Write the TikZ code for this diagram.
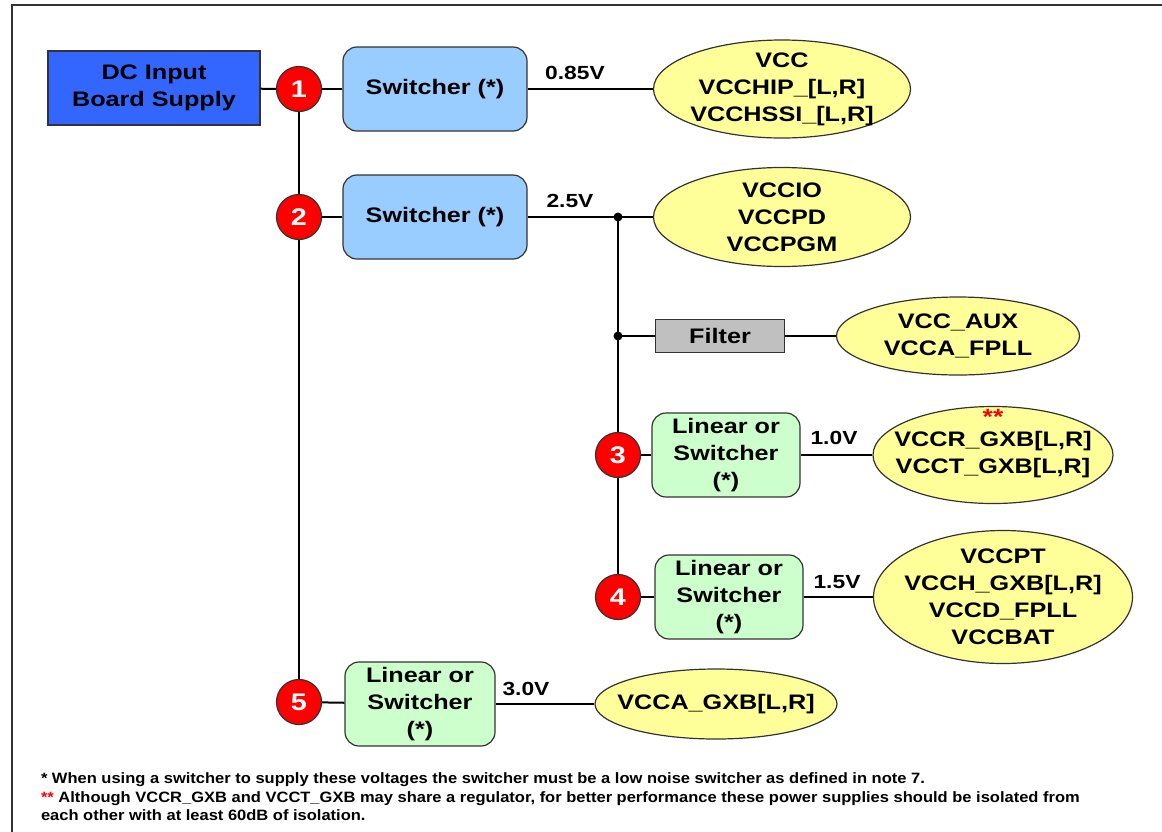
\documentclass[tikz,border=0pt]{standalone}
\usepackage{fontspec}
\setmainfont[FakeStretch=1.2]{Liberation Sans}
\newfontfamily\notefont[FakeStretch=1.1]{Liberation Sans}
\usepackage{xcolor}
\usetikzlibrary{shapes.geometric, positioning}

\definecolor{dcblue}{HTML}{3366FF}
\definecolor{swblue}{HTML}{99CCFF}
\definecolor{lingreen}{HTML}{CCFFCC}
\definecolor{railyellow}{HTML}{FFFF99}
\definecolor{filtgray}{HTML}{C0C0C0}
\definecolor{edge}{HTML}{333333}

\begin{document}
\begin{tikzpicture}[x=1pt, y=-1pt, line width=2pt,
            font=\fontsize{21}{27}\selectfont\bfseries,
            regbox/.style={draw=edge, line width=1.2pt, rectangle, rounded corners=14pt, minimum width=184pt, minimum height=84pt, align=center, inner sep=0pt},
            linbox/.style={draw=edge, line width=1.2pt, rectangle, rounded corners=14pt, fill=lingreen, minimum width=148pt, minimum height=84pt, align=center, inner sep=0pt},
            rail/.style={draw=edge, line width=1.2pt, ellipse, fill=railyellow, align=center, inner xsep=-30pt, inner ysep=-14pt},
            num/.style={draw=edge, line width=1.2pt, circle, fill=red, text=white, minimum size=45pt, inner sep=0pt, font=\fontsize{24}{24}\selectfont\bfseries},
            volt/.style={font=\fontsize{19}{20}\selectfont\bfseries},
            dot/.style={circle, fill=black, minimum size=9pt, inner sep=0pt}]

            \useasboundingbox (0,0) rectangle (1162,831);
            \draw[line width=2.5pt, draw=edge] (12,5) rectangle (1180,850);

            % input and regulators
            \node[draw=edge, line width=1.2pt, fill=dcblue, minimum width=212pt, minimum height=74pt, align=center, inner sep=0pt] (dc) at (154,88) {DC Input\\Board Supply};
            \node[num] (c1) at (299,89) {1};
            \node[num] (c2) at (299,217) {2};
            \node[num] (c3) at (618,455) {3};
            \node[num] (c4) at (618,597) {4};
            \node[num] (c5) at (299,702) {5};

            \node[regbox, fill=swblue] (sw1) at (435,89) {Switcher (*)};
            \node[regbox, fill=swblue] (sw2) at (435,217) {Switcher (*)};
            \node[draw=edge, line width=1.2pt, fill=filtgray, minimum width=129pt, minimum height=33pt, inner sep=0pt] (filt) at (720,336) {Filter};
            \node[linbox] (lin3) at (726,455) {Linear or\\Switcher\\(*)};
            \node[linbox] (lin4) at (729,597) {Linear or\\Switcher\\(*)};
            \node[linbox, minimum width=150pt] (lin5) at (420,704) {Linear or\\Switcher\\(*)};

            % supply rails
            \node[rail, minimum width=257pt, minimum height=98pt] (r1) at (782,89) {VCC\\VCCHIP\_[L,R]\\VCCHSSI\_[L,R]};
            \node[rail, minimum width=257pt, minimum height=99pt] (r2) at (782,217) {VCCIO\\VCCPD\\VCCPGM};
            \node[rail, minimum width=243pt, minimum height=78pt] (r3) at (958,336) {VCC\_AUX\\VCCA\_FPLL};
            \node[rail, minimum width=240pt, minimum height=97pt,
                  label={[text=red, anchor=north, inner sep=0pt, yshift=-2pt, font=\fontsize{22}{22}\selectfont\bfseries]north:**}] (r4) at (993,455) {VCCR\_GXB[L,R]\\VCCT\_GXB[L,R]};
            \node[rail, minimum width=259pt, minimum height=133pt] (r5) at (1003,597) {VCCPT\\VCCH\_GXB[L,R]\\VCCD\_FPLL\\VCCBAT};
            \node[rail, minimum width=242pt, minimum height=70pt] (r6) at (716,704) {VCCA\_GXB[L,R]};

            % voltages
            \node[volt] (v1) at (575,73) {0.85V};
            \node[volt] (v2) at (570,201) {2.5V};
            \node[volt] (v3) at (834,438) {1.0V};
            \node[volt] (v4) at (837,582) {1.5V};
            \node[volt] (v5) at (526,689) {3.0V};

            \coordinate (j1) at (618,217);
            \coordinate (j2) at (618,336);

            \draw (dc) -- (c1);
            \draw (c1) -- (sw1);
            \draw (c1) -- (c2);
            \draw (c2) -- (c5);
            \draw (c2) -- (sw2);
            \draw (c5) -- (lin5);
            \draw (sw1) -- (r1);
            \draw (sw2) -- (r2);
            \draw (j1) -- (c3);
            \draw (c3) -- (c4);
            \draw (j2) -- (filt);
            \draw (filt) -- (r3);
            \draw (c3) -- (lin3);
            \draw (lin3) -- (r4);
            \draw (c4) -- (lin4);
            \draw (lin4) -- (r5);
            \draw (lin5) -- (r6);
            \node[dot] at (j1) {};
            \node[dot] at (j2) {};

            % notes
            \node[anchor=west, inner sep=0pt, font=\notefont\fontsize{15}{18.5}\selectfont\bfseries, align=left] (notes) at (40,797)
                {* When using a switcher to supply these voltages the switcher must be a low noise switcher as defined in note 7.\\
                \textcolor{red}{**} Although VCCR\_GXB and VCCT\_GXB may share a regulator, for better performance these power supplies should be isolated from\\
                each other with at least 60dB of isolation.};
        \end{tikzpicture}
\end{document}
